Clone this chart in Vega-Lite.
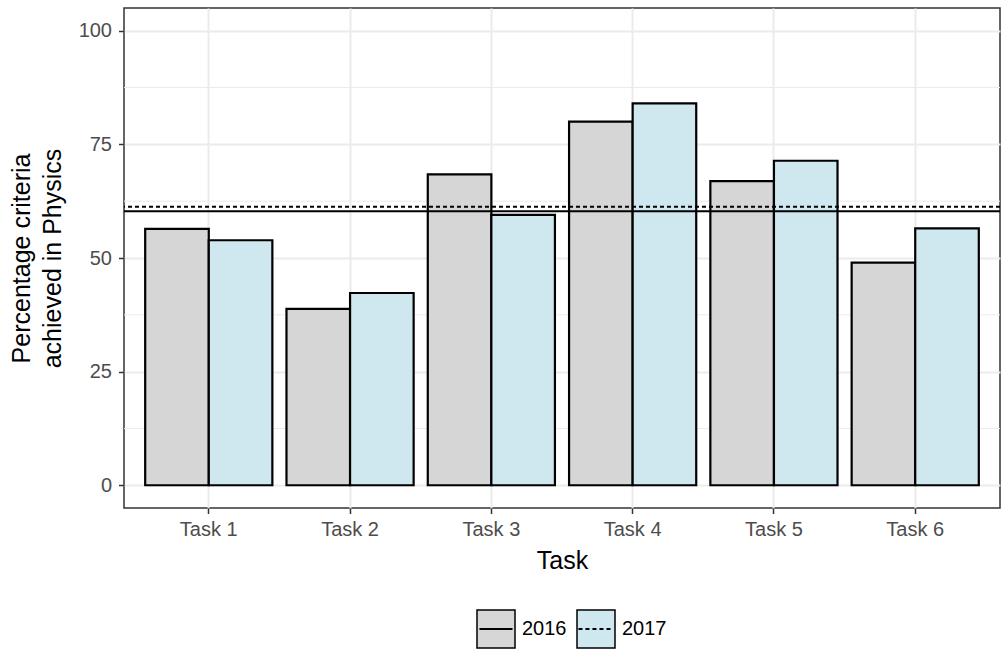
{
  "$schema": "https://vega.github.io/schema/vega-lite/v6.json",
  "autosize": {"type": "none"},
  "padding": {"left": 124, "top": 8, "right": 1, "bottom": 142},
  "width": 876,
  "height": 500,
  "background": "white",
  "config": {
    "font": "Liberation Sans",
    "view": {"stroke": "#333333", "strokeWidth": 1.5},
    "axis": {
      "domain": false,
      "tickColor": "#333333",
      "tickWidth": 1.5,
      "tickSize": 5.5,
      "labelFont": "Liberation Sans",
      "labelFontSize": 20,
      "labelColor": "#4d4d4d",
      "titleFont": "Liberation Sans",
      "titleFontSize": 25,
      "titleFontWeight": "normal",
      "titleColor": "black",
      "gridColor": "#ebebeb",
      "gridWidth": 2
    },
    "legend": {
      "labelFont": "Liberation Sans",
      "labelFontSize": 20,
      "labelColor": "black",
      "padding": 0
    }
  },
  "layer": [
    {
      "data": {"values": [{"minor": 12.5}, {"minor": 37.5}, {"minor": 62.5}, {"minor": 87.5}]},
      "mark": {"type": "rule", "color": "#ebebeb", "strokeWidth": 1},
      "encoding": {
        "y": {"field": "minor", "type": "quantitative", "scale": {"domain": [-5, 105], "nice": false, "zero": false}}
      }
    },
    {
      "data": {"values": [
        {"task": "Task 1", "year": "2016", "pct": 56.4},
        {"task": "Task 1", "year": "2017", "pct": 53.9},
        {"task": "Task 2", "year": "2016", "pct": 38.8},
        {"task": "Task 2", "year": "2017", "pct": 42.3},
        {"task": "Task 3", "year": "2016", "pct": 68.4},
        {"task": "Task 3", "year": "2017", "pct": 59.5},
        {"task": "Task 4", "year": "2016", "pct": 80.0},
        {"task": "Task 4", "year": "2017", "pct": 84.0},
        {"task": "Task 5", "year": "2016", "pct": 66.9},
        {"task": "Task 5", "year": "2017", "pct": 71.4},
        {"task": "Task 6", "year": "2016", "pct": 49.0},
        {"task": "Task 6", "year": "2017", "pct": 56.5}
      ]},
      "mark": {"type": "bar", "stroke": "black", "strokeWidth": 2.2},
      "encoding": {
        "x": {
          "field": "task", "type": "nominal",
          "scale": {"paddingInner": 0.1, "paddingOuter": 0.15},
          "axis": {"title": "Task", "labelAngle": 0, "labelPadding": 5.5, "titleBaseline": "alphabetic", "titleY": 60, "grid": true}
        },
        "xOffset": {"field": "year", "type": "nominal", "scale": {"paddingInner": 0, "paddingOuter": 0}},
        "y": {
          "field": "pct", "type": "quantitative",
          "scale": {"domain": [-5, 105], "nice": false, "zero": false},
          "axis": {
            "values": [0, 25, 50, 75, 100],
            "title": ["Percentage criteria", "achieved in Physics"],
            "titleLineHeight": 31,
            "titleBaseline": "alphabetic",
            "titleX": -95,
            "labelPadding": 7,
            "grid": true
          }
        },
        "y2": {"datum": 0},
        "fill": {
          "field": "year", "type": "nominal",
          "scale": {"domain": ["2016", "2017"], "range": ["#d6d6d6", "#cfe7ee"]},
          "legend": {
            "title": null,
            "orient": "none",
            "direction": "horizontal",
            "legendX": 352,
            "legendY": 601,
            "symbolType": "square",
            "symbolSize": 1444,
            "symbolStrokeColor": "black",
            "symbolStrokeWidth": 1.5,
            "symbolOpacity": 1,
            "labelOffset": 6,
            "columnPadding": 7,
            "zindex": 0
          }
        }
      }
    },
    {
      "data": {"values": [
        {"yr": "2016", "mean": 60.3},
        {"yr": "2017", "mean": 61.3}
      ]},
      "mark": {"type": "rule", "color": "black", "strokeWidth": 2},
      "encoding": {
        "y": {"field": "mean", "type": "quantitative"},
        "strokeDash": {
          "field": "yr", "type": "nominal",
          "scale": {"range": [[1, 0], [4, 3]]},
          "legend": {
            "title": null,
            "orient": "none",
            "direction": "horizontal",
            "legendX": 352,
            "legendY": 601,
            "symbolType": "M-0.87,0H0.87",
            "symbolSize": 1444,
            "symbolStrokeColor": "black",
            "symbolStrokeWidth": 2,
            "symbolFillColor": "transparent",
            "labelOffset": 6,
            "columnPadding": 7,
            "labelOpacity": 0,
            "zindex": 1
          }
        }
      }
    }
  ]
}
